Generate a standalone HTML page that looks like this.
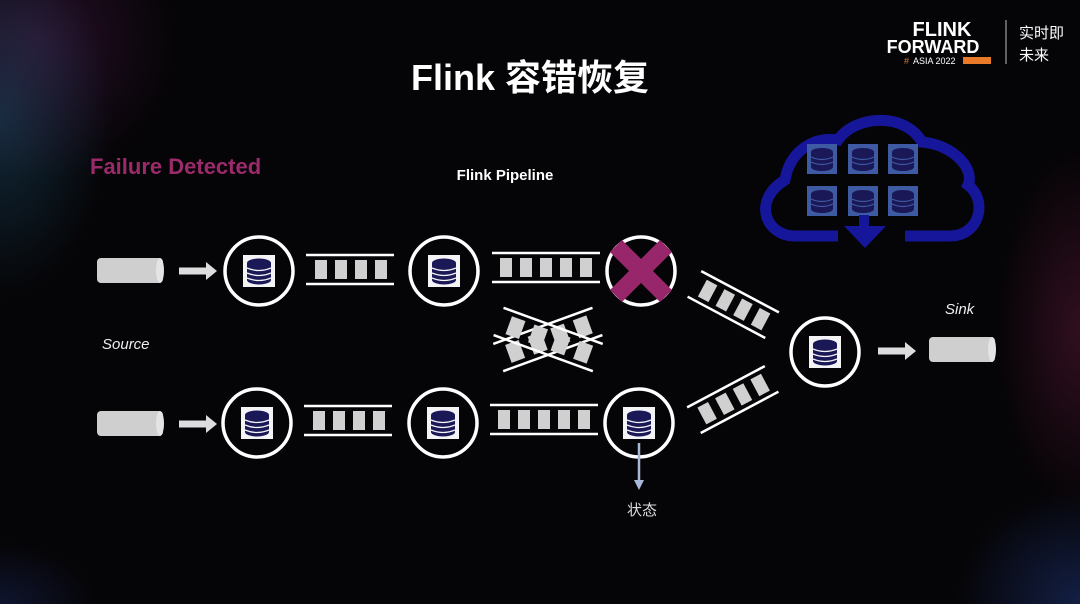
<!DOCTYPE html>
<html><head><meta charset="utf-8"><style>
html,body{margin:0;padding:0;background:#000;}
#w{position:relative;width:1080px;height:604px;overflow:hidden;
background:
radial-gradient(ellipse 160px 260px at 0px 120px, rgba(40,110,150,.35), transparent 70%),
radial-gradient(ellipse 200px 200px at 40px 40px, rgba(120,40,120,.3), transparent 70%),
radial-gradient(ellipse 180px 160px at 1080px 600px, rgba(40,70,160,.4), transparent 70%),
radial-gradient(ellipse 120px 260px at 1080px 330px, rgba(150,40,90,.3), transparent 70%),
radial-gradient(ellipse 140px 90px at 0px 604px, rgba(40,60,140,.3), transparent 70%),
#050406;}
svg{position:absolute;left:0;top:0}
text{font-family:"Liberation Sans","Noto Sans CJK SC",sans-serif}
</style></head><body><div id="w">
<svg width="1080" height="604" viewBox="0 0 1080 604">
<defs>
<g id="db">
<rect x="-16" y="-16" width="32" height="32" fill="#f4f4f6"/>
<ellipse cx="0" cy="-8" rx="12" ry="4.5" fill="#1b1858"/>
<rect x="-12" y="-8" width="24" height="17" fill="#1b1858"/>
<ellipse cx="0" cy="9" rx="12" ry="4.5" fill="#1b1858"/>
<path d="M-12 -3 Q0 2 12 -3 M-12 2 Q0 7 12 2 M-12 7 Q0 12 12 7" stroke="#f4f4f6" stroke-width="1.3" fill="none"/>
</g>
<g id="node"><circle r="34" fill="none" stroke="#fff" stroke-width="3.5"/><use href="#db"/></g>
<g id="ch4">
<line x1="-44" y1="-15" x2="44" y2="-15" stroke="#fff" stroke-width="2.5"/>
<line x1="-44" y1="14" x2="44" y2="14" stroke="#fff" stroke-width="2.5"/>
<rect x="-35" y="-10" width="12" height="19" fill="#d0d0d0"/>
<rect x="-15" y="-10" width="12" height="19" fill="#d0d0d0"/>
<rect x="5" y="-10" width="12" height="19" fill="#d0d0d0"/>
<rect x="25" y="-10" width="12" height="19" fill="#d0d0d0"/>
</g>
<g id="ch5">
<line x1="-54" y1="-15" x2="54" y2="-15" stroke="#fff" stroke-width="2.5"/>
<line x1="-54" y1="14" x2="54" y2="14" stroke="#fff" stroke-width="2.5"/>
<rect x="-46" y="-10" width="12" height="19" fill="#d0d0d0"/>
<rect x="-26" y="-10" width="12" height="19" fill="#d0d0d0"/>
<rect x="-6" y="-10" width="12" height="19" fill="#d0d0d0"/>
<rect x="14" y="-10" width="12" height="19" fill="#d0d0d0"/>
<rect x="34" y="-10" width="12" height="19" fill="#d0d0d0"/>
</g>
<g id="cyl">
<rect x="0" y="0" width="66" height="25" rx="4" fill="#cfcfcf"/>
<ellipse cx="63" cy="12.5" rx="4" ry="12.5" fill="#e4e4e4"/>
</g>
<g id="arr"><rect x="0" y="-3.5" width="28" height="7" fill="#ddd"/><polygon points="27,-9 38,0 27,9" fill="#ddd"/></g>
<g id="cdb"><rect x="-15" y="-15" width="30" height="30" fill="#3d5aa2"/>
<ellipse cx="0" cy="-7" rx="11" ry="4" fill="#1b1858"/><rect x="-11" y="-7" width="22" height="15" fill="#1b1858"/><ellipse cx="0" cy="8" rx="11" ry="4" fill="#1b1858"/>
<path d="M-11 -2 Q0 3 11 -2 M-11 3 Q0 8 11 3" stroke="#3d5aa2" stroke-width="1.2" fill="none"/></g>
</defs>

<text x="530" y="90" fill="#fff" font-size="36" font-weight="bold" text-anchor="middle">Flink 容错恢复</text>
<text x="90" y="174" fill="#9b2a6a" font-size="22" font-weight="bold">Failure Detected</text>
<text x="505" y="180" fill="#fff" font-size="15" font-weight="bold" text-anchor="middle">Flink Pipeline</text>
<text x="102" y="349" fill="#eee" font-size="15" font-style="italic">Source</text>
<text x="945" y="314" fill="#eee" font-size="15" font-style="italic">Sink</text>
<text x="642" y="515" fill="#ddd" font-size="15" text-anchor="middle">状态</text>

<text x="942" y="36" fill="#fff" font-size="20" font-weight="bold" text-anchor="middle">FLINK</text>
<text x="933" y="53" fill="#fff" font-size="18" font-weight="bold" text-anchor="middle">FORWARD</text>
<text x="904" y="64" fill="#e87a2a" font-size="9">#</text>
<text x="913" y="64" fill="#fff" font-size="9">ASIA 2022</text>
<rect x="963" y="57" width="28" height="7" fill="#e87a2a"/>
<line x1="1006" y1="20" x2="1006" y2="64" stroke="#bbb" stroke-width="1"/>
<text x="1019" y="38" fill="#fff" font-size="15">实时即</text>
<text x="1019" y="60" fill="#fff" font-size="15">未来</text>

<path d="M838 236 H795 C765 236 752 200 785 180 C790 150 815 136 838 140 C855 115 905 112 922 142 C955 145 975 170 968 185 C988 200 980 236 950 236 H905" fill="none" stroke="#16169a" stroke-width="11"/>
<use href="#cdb" x="822" y="159"/><use href="#cdb" x="863" y="159"/><use href="#cdb" x="903" y="159"/>
<use href="#cdb" x="822" y="201"/><use href="#cdb" x="863" y="201"/><use href="#cdb" x="903" y="201"/>
<rect x="859" y="215" width="10" height="12" fill="#16169a"/>
<polygon points="844,226 886,226 865,248" fill="#16169a"/>

<use href="#cyl" x="97" y="258"/><use href="#cyl" x="97" y="411"/>
<use href="#arr" x="179" y="271"/><use href="#arr" x="179" y="424"/>

<use href="#node" x="259" y="271"/><use href="#node" x="444" y="271"/>
<use href="#node" x="257" y="423"/><use href="#node" x="443" y="423"/>
<use href="#node" x="639" y="423"/><use href="#node" x="825" y="352"/>
<circle cx="641" cy="271" r="34" fill="none" stroke="#fff" stroke-width="3.5"/>
<g stroke="#98266a" stroke-width="17">
<line x1="616" y1="246" x2="666" y2="296"/><line x1="666" y1="246" x2="616" y2="296"/></g>

<use href="#ch4" x="350" y="270"/><use href="#ch5" x="546" y="268"/>
<use href="#ch4" x="348" y="421"/><use href="#ch5" x="544" y="420"/>

<use href="#ch4" transform="translate(548,340) rotate(-20) scale(1.2,1)"/>
<use href="#ch4" transform="translate(548,340) rotate(20) scale(1.2,1)"/>

<use href="#ch4" transform="translate(733,305) rotate(28)"/>
<use href="#ch4" transform="translate(733,400) rotate(-28)"/>

<use href="#arr" x="878" y="351"/><use href="#cyl" x="929" y="337"/>

<line x1="639" y1="443" x2="639" y2="482" stroke="#a8b8d8" stroke-width="2.5"/>
<polygon points="634,480 644,480 639,490" fill="#a8b8d8"/>
</svg>
</div></body></html>
